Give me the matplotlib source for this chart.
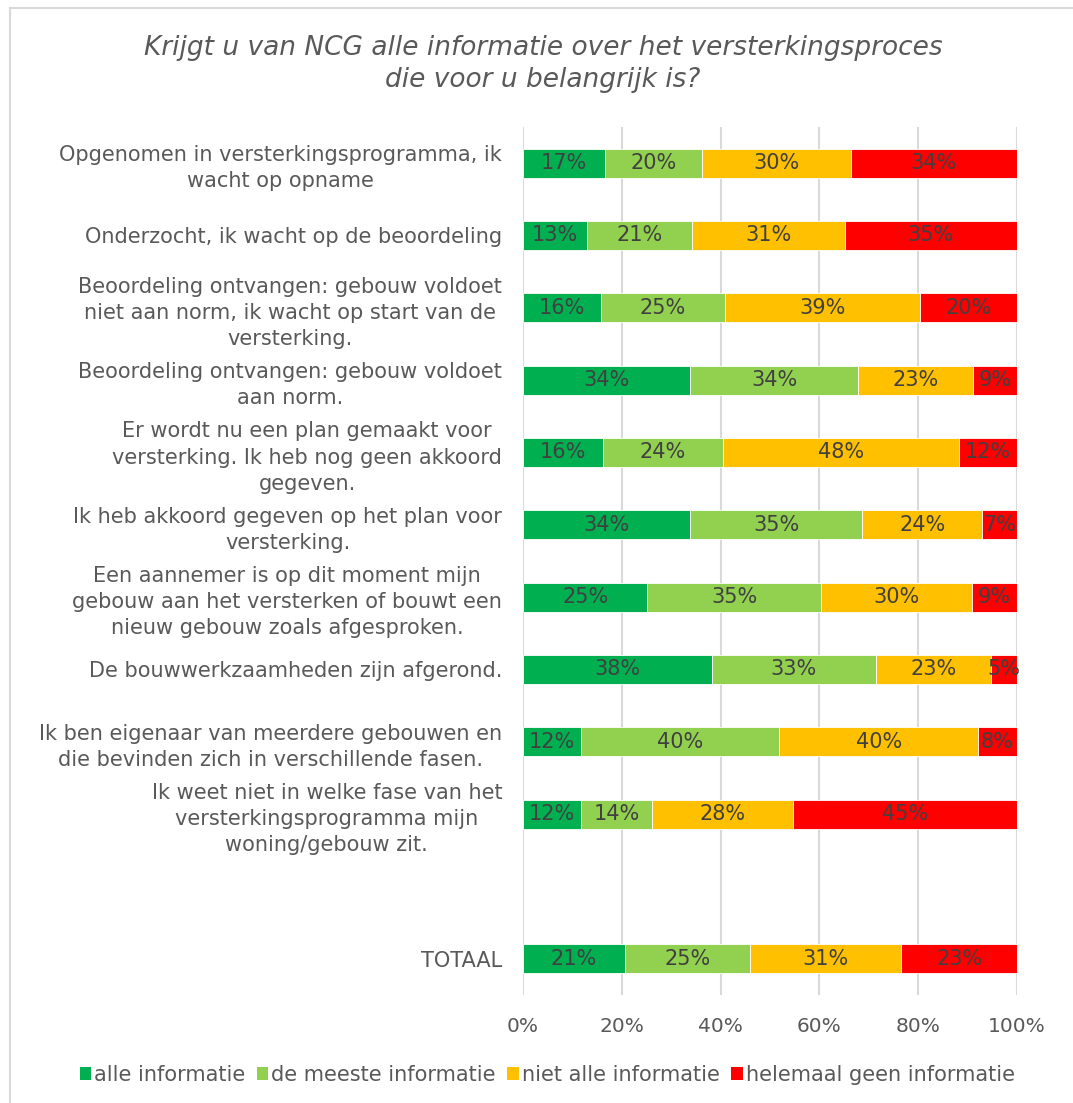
import numpy as np
import matplotlib.pyplot as plt
from matplotlib.lines import Line2D
from matplotlib.patches import Patch

categories = [
    "Opgenomen in versterkingsprogramma, ik\nwacht op opname",
    "Onderzocht, ik wacht op de beoordeling",
    "Beoordeling ontvangen: gebouw voldoet\nniet aan norm, ik wacht op start van de\nversterking.",
    "Beoordeling ontvangen: gebouw voldoet\naan norm.",
    "Er wordt nu een plan gemaakt voor\nversterking. Ik heb nog geen akkoord\ngegeven.",
    "Ik heb akkoord gegeven op het plan voor\nversterking.",
    "Een aannemer is op dit moment mijn\ngebouw aan het versterken of bouwt een\nnieuw gebouw zoals afgesproken.",
    "De bouwwerkzaamheden zijn afgerond.",
    "Ik ben eigenaar van meerdere gebouwen en\ndie bevinden zich in verschillende fasen.",
    "Ik weet niet in welke fase van het\nversterkingsprogramma mijn\nwoning/gebouw zit.",
    "",
    "TOTAAL",
]

series = ["alle informatie", "de meeste informatie", "niet alle informatie",
          "helemaal geen informatie"]
colors = ["#00B050", "#92D050", "#FFC000", "#FF0000"]

# percentages per categorie (lege rij = scheiding voor TOTAAL)
alle = [16.6, 13.0, 15.8, 33.9, 16.1, 33.9, 25.2, 38.2, 11.8, 11.8, np.nan, 20.6]
meeste = [19.6, 21.2, 25.1, 33.9, 24.4, 34.7, 35.2, 33.2, 40.1, 14.4, np.nan, 25.4]
niet_alle = [30.2, 30.9, 39.4, 23.2, 47.7, 24.4, 30.4, 23.4, 40.2, 28.5, np.nan, 30.6]
geen = [33.6, 34.9, 19.7, 9.0, 11.8, 7.0, 9.2, 5.2, 7.9, 45.3, np.nan, 23.4]

data = [alle, meeste, niet_alle, geen]

fig = plt.figure(figsize=(10.73, 11.03), dpi=100)
ax = fig.add_axes([0.4874, 0.0979, 0.4604, 0.787])

y = np.arange(len(categories))
v_all = np.array(data, dtype=float)
mask = ~np.isnan(v_all[0])
left = np.zeros(len(categories))
for v, col, name in zip(v_all, colors, series):
    bars = ax.barh(y[mask], v[mask], left=left[mask], height=0.4, color=col,
                   edgecolor="white", linewidth=0.6, label=name)
    for b, val in zip(bars, v[mask]):
        ax.text(b.get_x() + b.get_width() / 2, b.get_y() + b.get_height() / 2,
                f"{val:.0f}%", ha="center", va="center", fontsize=15,
                color="#404040")
    left = left + np.nan_to_num(v)

ax.set_xlim(0, 100)
ax.set_ylim(len(categories) - 0.5, -0.5)
ax.set_yticks(y)
ax.set_yticklabels(categories, fontsize=15, color="#595959",
                   multialignment="center", linespacing=1.38)
ax.set_xticks(np.arange(0, 101, 20))
ax.set_xticklabels([f"{t}%" for t in range(0, 101, 20)], fontsize=14.5,
                   color="#595959")
ax.tick_params(axis="y", length=0, pad=15)
ax.tick_params(axis="x", length=0, pad=16)
ax.grid(True, axis="x", color="#D9D9D9", linewidth=1.5)
ax.set_axisbelow(True)
for s in ax.spines.values():
    s.set_visible(False)

fig.suptitle("Krijgt u van NCG alle informatie over het versterkingsproces\n"
             "die voor u belangrijk is?", x=0.506, y=1 - 64 / 1103, va="center",
             fontsize=19, style="italic", color="#595959", linespacing=1.3)

handles = [Patch(facecolor=c, edgecolor="none") for c in colors]
fig.legend(handles, series, loc="center", bbox_to_anchor=(0.51, 1 - 1075 / 1103),
           ncol=4, frameon=False, fontsize=15, handlelength=0.55,
           handleheight=0.6, handletextpad=0.15, columnspacing=0.55,
           labelcolor="#595959")

# rand van het grafiekgebied
fig.add_artist(Line2D([10 / 1073, 10 / 1073], [0, 1 - 8 / 1103],
                      transform=fig.transFigure, color="#D9D9D9", lw=1.5))
fig.add_artist(Line2D([10 / 1073, 1], [1 - 8 / 1103, 1 - 8 / 1103],
                      transform=fig.transFigure, color="#D9D9D9", lw=1.5))

fig.savefig("out.png", dpi=100)
